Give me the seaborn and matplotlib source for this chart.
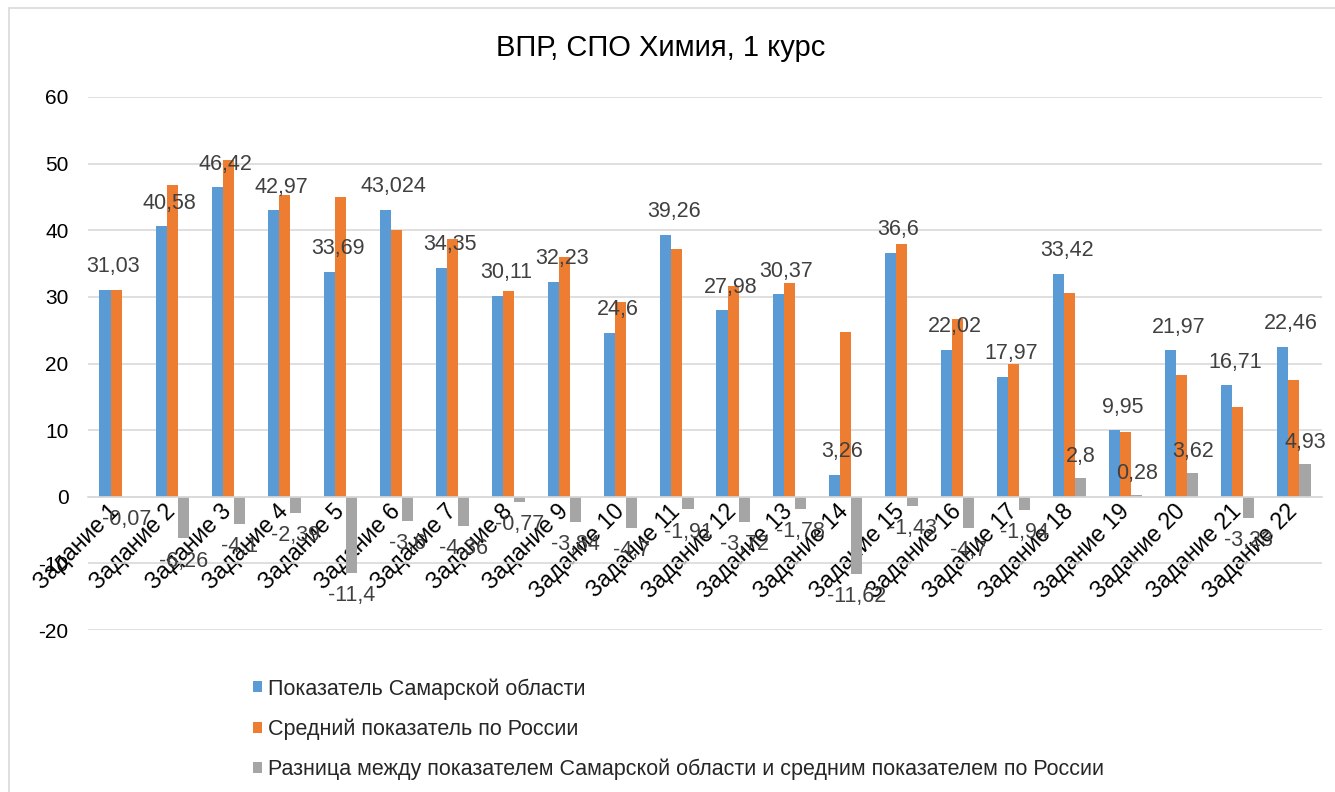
import matplotlib
matplotlib.use("Agg")
import matplotlib.pyplot as plt
import matplotlib.patches as mpatches
import numpy as np
import pandas as pd
import seaborn as sns

categories = ["Задание 1", "Задание 2", "Задание 3", "Задание 4", "Задание 5", "Задание 6",
              "Задание 7", "Задание 8", "Задание 9", "Задание 10", "Задание 11", "Задание 12",
              "Задание 13", "Задание 14", "Задание 15", "Задание 16", "Задание 17", "Задание 18",
              "Задание 19", "Задание 20", "Задание 21", "Задание 22"]
samara = [31.03, 40.58, 46.42, 42.97, 33.69, 43.024, 34.35, 30.11, 32.23, 24.6, 39.26,
          27.98, 30.37, 3.26, 36.6, 22.02, 17.97, 33.42, 9.95, 21.97, 16.71, 22.46]
russia = [31.1, 46.85, 50.6, 45.35, 45.05, 40.1, 38.75, 30.85, 36.0, 29.2, 37.25,
          31.65, 32.05, 24.8, 38.0, 26.7, 19.85, 30.55, 9.65, 18.3, 13.45, 17.5]
diff = [-0.07, -6.26, -4.1, -2.39, -11.4, -3.6, -4.36, -0.77, -3.84, -4.7, -1.91,
        -3.72, -1.78, -11.62, -1.43, -4.7, -1.94, 2.8, 0.28, 3.62, -3.23, 4.93]
series_names = ["Показатель Самарской области",
                "Средний показатель по России",
                "Разница между показателем Самарской области и средним показателем по России"]
colors = ["#5B9BD5", "#ED7D31", "#A5A5A5"]
title = "ВПР, СПО Химия, 1 курс"
yticks = [-20, -10, 0, 10, 20, 30, 40, 50, 60]

sns.set_theme(style="white")
plt.rcParams["font.family"] = ["Liberation Sans", "DejaVu Sans"]
plt.rcParams["axes.unicode_minus"] = False

W, H = 1335, 792
fig = plt.figure(figsize=(W / 100, H / 100), dpi=100)
fig.patch.set_facecolor("white")
# outer chart border (only left and top edges visible)
fig.add_artist(mpatches.Rectangle((9 / W, -0.2), 1.2, 1.2 - 8 / H, transform=fig.transFigure,
                                  fill=False, edgecolor="#D9D9D9", linewidth=1.2))

ax = fig.add_axes([88 / W, 1 - 630 / H, (1322 - 88) / W, (630 - 97) / H])

df = pd.DataFrame({
    "cat": categories * 3,
    "series": [s for s in series_names for _ in categories],
    "value": samara + russia + diff,
})
sns.barplot(data=df, x="cat", y="value", hue="series", order=categories,
            hue_order=series_names, palette=colors, width=0.59, saturation=1,
            errorbar=None, linewidth=0, ax=ax)

ax.set_ylim(-20, 60)
ax.set_xlim(-0.5, len(categories) - 0.5)
ax.set_yticks(yticks)
ax.set_yticklabels([str(t) for t in yticks], fontsize=15, color="#000000")
ax.yaxis.grid(True, color="#D9D9D9", linewidth=1.2)
ax.set_axisbelow(True)
for s in ["top", "right", "left"]:
    ax.spines[s].set_visible(False)
ax.spines["bottom"].set_position(("data", 0))
ax.spines["bottom"].set_color("#D9D9D9")
ax.spines["bottom"].set_linewidth(1.2)
ax.tick_params(axis="both", length=0)
ax.tick_params(axis="y", pad=14)
ax.set_xlabel("")
ax.set_ylabel("")
for lab in ax.get_xticklabels():
    lab.set_rotation(45)
    lab.set_ha("right")
    lab.set_va("center")
    lab.set_rotation_mode("anchor")
    lab.set_fontsize(16.5)
    lab.set_color("#000000")
ax.tick_params(axis="x", pad=8)

def fmt(v):
    return ("%g" % v).replace(".", ",")

# labels for Samara bars (centred above each group)
for i, v in enumerate(samara):
    ax.text(i - 0.05, v + 3.5, fmt(v), ha="center", va="center", fontsize=15.5, color="#404040")

# labels for difference bars
gray = ax.containers[2]
for bar, v in zip(gray, diff):
    x = bar.get_x() + bar.get_width() / 2
    y = v + 3.2 if v >= 0 else v - 3.4
    ax.text(x, y, fmt(v), ha="center", va="center", fontsize=15.5, color="#404040")

fig.text(0.495, 1 - 48 / H, title, ha="center", va="center", fontsize=21, color="#000000")

sns.move_legend(ax, loc="upper left", bbox_to_anchor=(253 / W, 1 - 678 / H),
                bbox_transform=fig.transFigure, frameon=False, title=None,
                fontsize=15.5, handlelength=0.42, handleheight=0.42, handletextpad=0.3,
                labelspacing=0.88, borderaxespad=0, borderpad=0)

fig.savefig("out.png", dpi=100)
